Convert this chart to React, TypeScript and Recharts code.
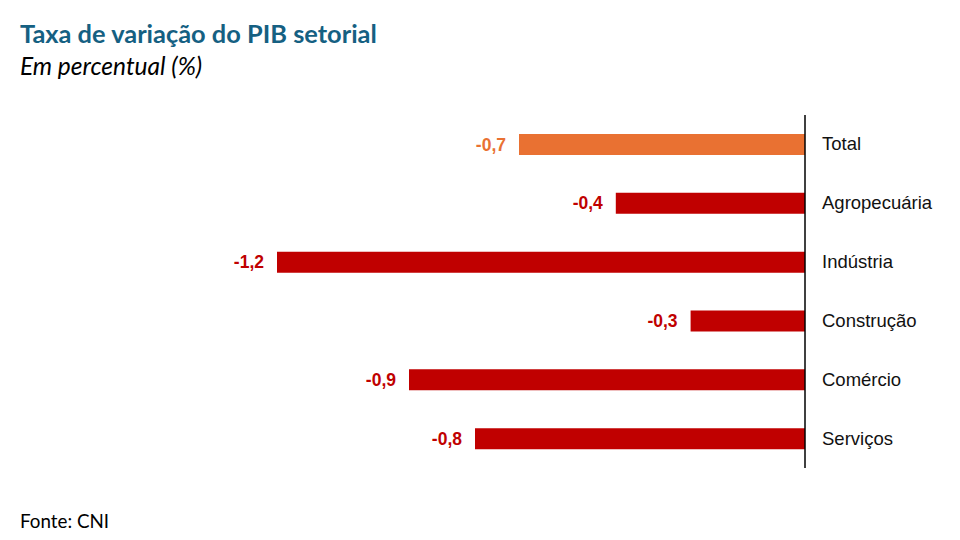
import React from "react";
import { BarChart, Bar, XAxis, YAxis, Cell } from "recharts";

const categories = ["Total", "Agropecuária", "Indústria", "Construção", "Comércio", "Serviços"];
const values = [-0.65, -0.43, -1.2, -0.26, -0.9, -0.75];
const valueLabels = ["-0,7", "-0,4", "-1,2", "-0,3", "-0,9", "-0,8"];
const barColors = ["#E97132", "#C00000", "#C00000", "#C00000", "#C00000", "#C00000"];

const data = categories.map((c, i) => ({ name: c, value: values[i], label: valueLabels[i], color: barColors[i] }));

const CatTick = (props: any) => {
  const { x, y, payload } = props;
  return (
    <text x={x} y={y} dx={9} dy={6} textAnchor="start" fill="#111" fontSize={18.5} fontFamily="'Liberation Sans', Arial, sans-serif">
      {payload.value}
    </text>
  );
};

const renderValLabel = (props: any) => {
  const vb = props.viewBox || {};
  const x = props.x ?? vb.x;
  const y = props.y ?? vb.y;
  const height = props.height ?? vb.height ?? 0;
  const width = props.width ?? vb.width ?? 0;
  const index = props.index ?? 0;
  const left = Math.min(x, x + width);
  return (
    <text
      key={"lbl" + index}
      x={left - 13}
      y={y + height / 2}
      dy={6}
      textAnchor="end"
      fill={barColors[index]}
      fontSize={17.5}
      fontWeight="bold"
      fontFamily="'Liberation Sans', Arial, sans-serif"
    >
      {valueLabels[index]}
    </text>
  );
};

export default function App() {
  return (
    <div style={{ position: "absolute", left: 0, top: 0, width: 960, height: 540, background: "#fff" }}>
      <div style={{ position: "absolute", left: 20, top: 18, fontFamily: "Lato, sans-serif", fontWeight: 700, fontSize: 25.4, color: "#156082", whiteSpace: "nowrap" }}>
        Taxa de variação do PIB setorial
      </div>
      <div style={{ position: "absolute", left: 20, top: 51, fontFamily: "Lato, sans-serif", fontStyle: "italic", fontSize: 24.5, color: "#000", whiteSpace: "nowrap" }}>
        Em percentual (%)
      </div>
      <div style={{ position: "absolute", left: 20, top: 509, fontFamily: "Lato, sans-serif", fontSize: 18.8, color: "#000", whiteSpace: "nowrap" }}>
        Fonte: CNI
      </div>
      <div style={{ position: "absolute", left: 0, top: 0 }}>
        <BarChart
          width={960}
          height={540}
          data={data}
          layout="vertical"
          margin={{ top: 115, bottom: 72, left: 277, right: 5 }}
          barSize={21}
        >
          <XAxis type="number" domain={[-1.2, 0]} hide />
          <YAxis
            type="category"
            dataKey="name"
            orientation="right"
            width={150}
            axisLine={{ stroke: "#000", strokeWidth: 1.5 }}
            tickLine={false}
            tick={<CatTick />}
            interval={0}
          />
          <Bar dataKey="value" isAnimationActive={false} label={renderValLabel}>
            {data.map((d, i) => (
              <Cell key={i} fill={d.color} />
            ))}
          </Bar>
        </BarChart>
      </div>
    </div>
  );
}
